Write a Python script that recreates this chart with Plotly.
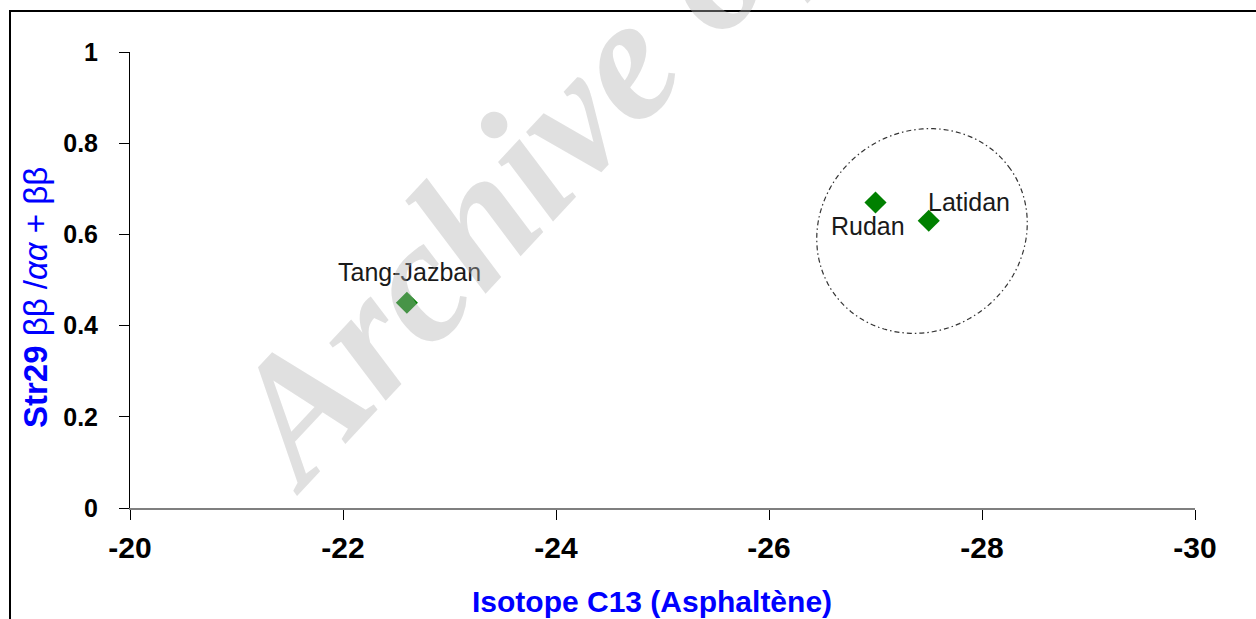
import numpy as np
import plotly.graph_objects as go

# --- data -------------------------------------------------------------
oil_names = ["Tang-Jazban", "Rudan", "Latidan"]
isotope_c13 = [-22.6, -27.0, -27.5]          # Isotope C13 (asphaltene)
sterane_ratio = [0.45, 0.67, 0.63]           # Str29 bb / (aa + bb)
x_ticks = [-20, -22, -24, -26, -28, -30]
y_ticks = [0, 0.2, 0.4, 0.6, 0.8, 1]

# --- layout geometry (pixels) -----------------------------------------
W, H = 1256, 619
L, R, T, B = 130, 61, 52, 111
PW, PH = W - L - R, H - T - B
X_RANGE = [-20, -30]
Y_RANGE = [0, 1]
px_per_x = PW / abs(X_RANGE[1] - X_RANGE[0])
px_per_y = PH / (Y_RANGE[1] - Y_RANGE[0])


def paper_x(px):
    return (px - L) / PW


def paper_y(py):
    return (H - B - py) / PH


AXIS_FONT = "Liberation Sans, Arial, sans-serif"

fig = go.Figure()

fig.add_trace(go.Scatter(
    x=isotope_c13, y=sterane_ratio, mode="markers",
    marker=dict(symbol="diamond", size=17, color="#008000", line=dict(width=0)),
    hovertext=oil_names, showlegend=False,
))

# point labels: (dx, dy) pixel offsets of the label centre from its marker
label_offsets = {"Tang-Jazban": (3, 31), "Rudan": (-8, -24), "Latidan": (40, 19)}
for name, xv, yv in zip(oil_names, isotope_c13, sterane_ratio):
    dx, dy = label_offsets[name]
    fig.add_annotation(x=xv, y=yv, xref="x", yref="y", text=name, showarrow=False,
                       xanchor="center", yanchor="middle", xshift=dx, yshift=dy,
                       font=dict(family=AXIS_FONT, size=25, color="#1a1a1a"))

# dash-dot ellipse grouping Rudan and Latidan (drawn in screen space, then mapped to data)
cx_px, cy_px = 922.0, 231.0
a_px, b_px, tilt = 108.0, 99.5, np.deg2rad(35)
t = np.linspace(0, 2 * np.pi, 121)
ex = a_px * np.cos(tilt) * np.cos(t) - b_px * np.sin(tilt) * np.sin(t) + cx_px
ey = -(a_px * np.sin(tilt) * np.cos(t) + b_px * np.cos(tilt) * np.sin(t)) + cy_px
ex_data = X_RANGE[0] - (ex - L) / px_per_x
ey_data = Y_RANGE[0] + (H - B - ey) / px_per_y
path = "M " + " L ".join(f"{xx:.4f},{yy:.4f}" for xx, yy in zip(ex_data, ey_data)) + " Z"
fig.add_shape(type="path", path=path, xref="x", yref="y",
              line=dict(color="#333333", width=1.2, dash="5px,3px,1.5px,3px"))

# outer frame around the figure
fig.add_shape(type="rect", xref="paper", yref="paper",
              x0=paper_x(10), x1=paper_x(W + 20), y0=paper_y(H + 20), y1=paper_y(11),
              line=dict(color="black", width=2), fillcolor="rgba(0,0,0,0)")

# axis titles
fig.add_annotation(xref="paper", yref="paper", x=paper_x(652), y=paper_y(601),
                   text="<b>Isotope C13 (Asphaltène)</b>", showarrow=False,
                   xanchor="center", yanchor="middle",
                   font=dict(family=AXIS_FONT, size=30, color="#0000ff"))
fig.add_annotation(xref="paper", yref="paper", x=paper_x(35), y=paper_y(298),
                   text="<b>Str29</b> ββ /<i>αα</i> + ββ", showarrow=False,
                   textangle=-90, xanchor="center", yanchor="middle",
                   font=dict(family=AXIS_FONT, size=33, color="#0000ff"))

# watermark
fig.add_annotation(xref="paper", yref="paper", x=paper_x(629), y=paper_y(52),
                   text="Archive of SID", showarrow=False, textangle=-47,
                   xanchor="center", yanchor="middle",
                   font=dict(family="Liberation Serif, Times New Roman, serif", size=176,
                             color="rgba(177,177,177,0.4)", weight="bold", style="italic"))

fig.update_xaxes(range=X_RANGE, tickvals=x_ticks, ticktext=[str(v) for v in x_ticks],
                 showgrid=False, zeroline=False, showline=True,
                 linecolor="#7f7f7f", linewidth=2, ticks="outside", ticklen=10,
                 tickcolor="black", tickwidth=1, ticklabelstandoff=2,
                 tickfont=dict(family=AXIS_FONT, size=30, color="black", weight="bold"))
fig.update_yaxes(range=Y_RANGE, tickvals=y_ticks, ticktext=["0", "0.2", "0.4", "0.6", "0.8", "1"],
                 showgrid=False, zeroline=False, showline=True,
                 linecolor="black", linewidth=1, ticks="outside", ticklen=10,
                 tickcolor="black", tickwidth=1, ticklabelstandoff=16,
                 tickfont=dict(family=AXIS_FONT, size=25, color="black", weight="bold"))

fig.update_layout(width=W, height=H, margin=dict(l=L, r=R, t=T, b=B, autoexpand=False),
                  paper_bgcolor="white", plot_bgcolor="white", showlegend=False)

fig.write_html("out.html")
